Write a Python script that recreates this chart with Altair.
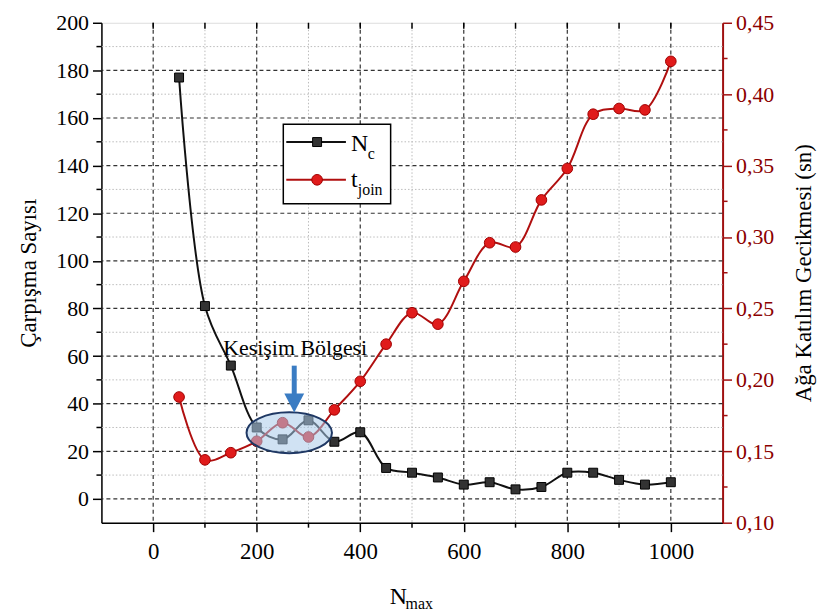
import altair as alt
import pandas as pd

# ---------------- data ----------------
n_max = [50, 100, 150, 200, 250, 300, 350, 400, 450, 500,
         550, 600, 650, 700, 750, 800, 850, 900, 950, 1000]
n_c = [177, 81, 56, 30, 25, 33, 24, 28, 13, 11,
       9, 6, 7, 4, 5, 11, 11, 8, 6, 7]
t_join = [0.188, 0.144, 0.149, 0.157, 0.170, 0.160, 0.179, 0.199, 0.225, 0.247,
          0.239, 0.269, 0.296, 0.293, 0.326, 0.348, 0.386, 0.390, 0.389, 0.423]

x_major = [0, 200, 400, 600, 800, 1000]
x_minor = [100, 300, 500, 700, 900]
x_top = [0, 100, 200, 300, 400, 500, 600, 700, 800, 900, 1000]
yl_major = [0, 20, 40, 60, 80, 100, 120, 140, 160, 180, 200]
yl_grid = [0, 20, 40, 60, 80, 100, 120, 140, 160, 180]
yl_minor = [10, 30, 50, 70, 90, 110, 130, 150, 170, 190]
yr_major = [0.10, 0.15, 0.20, 0.25, 0.30, 0.35, 0.40, 0.45]
yr_minor = [0.125, 0.175, 0.225, 0.275, 0.325, 0.375, 0.425]

FONT = "Liberation Serif"
RED_AX = "#a01010"
W, H = 625, 503

df = pd.DataFrame({"n": n_max, "nc": n_c, "t": t_join})
one = pd.DataFrame({"a": [0]})

xs = alt.Scale(domain=[-100, 1100], nice=False, zero=False)
yls = alt.Scale(domain=[-10, 200], nice=False, zero=False)
yrs = alt.Scale(domain=[0.10, 0.45], nice=False, zero=False)

ax_x = alt.Axis(values=x_major, format="d", title=None, grid=False, tickSize=9, tickWidth=1.5,
                tickColor="black", domainColor="black", domainWidth=1.5,
                labelFont=FONT, labelFontSize=23, labelColor="black", labelPadding=9,
                orient="bottom")
ax_yl = alt.Axis(values=yl_major, format="d", title="Çarpışma Sayısı", grid=False, tickSize=9,
                 tickWidth=1.5, tickColor="black", domainColor="black", domainWidth=1.5,
                 labelFont=FONT, labelFontSize=22, labelColor="black", labelPadding=4,
                 titleFont=FONT, titleFontSize=23, titleFontWeight="normal",
                 titleColor="black", titlePadding=15, orient="left")
ax_yr = alt.Axis(values=yr_major, title="Ağa Katılım Gecikmesi (sn)", grid=False,
                 tickSize=9, tickWidth=1.5, tickColor=RED_AX, domainColor=RED_AX,
                 domainWidth=2, labelFont=FONT, labelFontSize=22, labelColor="#8b0000",
                 labelPadding=4,
                 labelExpr="replace(format(datum.value, '.2f'), '.', ',')",
                 titleFont=FONT, titleFontSize=23, titleFontWeight="normal",
                 titleColor="black", titlePadding=19, titleAngle=270,
                 titleBaseline="top", orient="right")


def X(f):
    return alt.X(f"{f}:Q", scale=xs, axis=ax_x)


def YL(f):
    return alt.Y(f"{f}:Q", scale=yls, axis=ax_yl)


def YR(f):
    return alt.Y(f"{f}:Q", scale=yrs, axis=ax_yr)


# ---------------- grids & minor ticks (left group) ----------------
hg_major = alt.Chart(pd.DataFrame({"g": yl_grid})).mark_rule(
    color="#333333", strokeDash=[4, 3], strokeWidth=1.2).encode(y=YL("g"))
hg_minor = alt.Chart(pd.DataFrame({"g": yl_minor})).mark_rule(
    color="#bbbbbb", strokeDash=[1.5, 2], strokeWidth=1).encode(y=YL("g"))
vg_major = alt.Chart(pd.DataFrame({"g": x_major})).mark_rule(
    color="#333333", strokeDash=[4, 3], strokeWidth=1.2).encode(x=X("g"))
vg_minor = alt.Chart(pd.DataFrame({"g": x_minor})).mark_rule(
    color="#bbbbbb", strokeDash=[1.5, 2], strokeWidth=1).encode(x=X("g"))

top_ticks = alt.Chart(pd.DataFrame({"g": x_top})).mark_rule(
    color="black", strokeWidth=1.5).encode(x=X("g"), y=alt.value(0), y2=alt.value(6))
bot_minor = alt.Chart(pd.DataFrame({"g": x_minor})).mark_rule(
    color="black", strokeWidth=1.5).encode(x=X("g"), y=alt.value(H), y2=alt.value(H + 5))
left_minor = alt.Chart(pd.DataFrame({"g": yl_minor})).mark_rule(
    color="black", strokeWidth=1.5).encode(y=YL("g"), x=alt.value(-5), x2=alt.value(0))

nc_line = alt.Chart(df).mark_line(color="#111111", strokeWidth=2,
                                  interpolate="catmull-rom").encode(x=X("n"), y=YL("nc"))
nc_pts = alt.Chart(df).mark_point(shape="square", filled=True, size=81, color="#333333",
                                  stroke="#000000", strokeWidth=1, opacity=1
                                  ).encode(x=X("n"), y=YL("nc"))

left = alt.layer(hg_minor, vg_minor, hg_major, vg_major, top_ticks, bot_minor, left_minor,
                 nc_line, nc_pts)

# ---------------- right group ----------------
t_line = alt.Chart(df).mark_line(color="#b00f0f", strokeWidth=2,
                                 interpolate="catmull-rom").encode(x=X("n"), y=YR("t"))
t_pts = alt.Chart(df).mark_point(shape="circle", filled=True, size=115, color="#e01b1b",
                                 stroke="#a00000", strokeWidth=1, opacity=1
                                 ).encode(x=X("n"), y=YR("t"))
right_minor = alt.Chart(pd.DataFrame({"g": yr_minor})).mark_rule(
    color=RED_AX, strokeWidth=1.5).encode(y=YR("g"), x=alt.value(W), x2=alt.value(W + 5))

right = alt.layer(right_minor, t_line, t_pts)

# ---------------- annotations ----------------
ELLIPSE = ("M 1 0 C 1 0.263 0.552 0.477 0 0.477 C -0.552 0.477 -1 0.263 -1 0 "
           "C -1 -0.263 -0.552 -0.477 0 -0.477 C 0.552 -0.477 1 -0.263 1 0 Z")
TRI = "M -1 -0.9 L 1 -0.9 L 0 1 Z"

OY = 2  # plot top is 2px lower than the first draft

ellipse = alt.Chart(one).mark_point(shape=ELLIPSE, size=7396, filled=True, fill="#a9cbea",
                                    fillOpacity=0.55, stroke="#1f3864", strokeWidth=2,
                                    strokeOpacity=1).encode(x=alt.value(189), y=alt.value(414.5 - OY))
arrow_shaft = alt.Chart(one).mark_rule(color="#3a7cc3", strokeWidth=5).encode(
    x=alt.value(194), y=alt.value(347 - OY), y2=alt.value(377 - OY))
arrow_head = alt.Chart(one).mark_point(shape=TRI, size=400, filled=True, color="#3a7cc3",
                                       opacity=1).encode(x=alt.value(194), y=alt.value(384 - OY))
kes_text = alt.Chart(one).mark_text(text="Kesişim Bölgesi", font=FONT, fontSize=22,
                                    color="black", align="center", baseline="alphabetic"
                                    ).encode(x=alt.value(195), y=alt.value(336 - OY))

# legend
leg_box = alt.Chart(one).mark_rect(fill="white", stroke="black", strokeWidth=1.5).encode(
    x=alt.value(183), x2=alt.value(291), y=alt.value(104 - OY), y2=alt.value(184 - OY))
leg_l1 = alt.Chart(one).mark_rule(color="#111111", strokeWidth=2).encode(
    x=alt.value(186), x2=alt.value(246), y=alt.value(122 - OY))
leg_p1 = alt.Chart(one).mark_point(shape="square", filled=True, size=81, color="#333333",
                                   stroke="#000000", strokeWidth=1, opacity=1).encode(
    x=alt.value(217), y=alt.value(122 - OY))
leg_l2 = alt.Chart(one).mark_rule(color="#b00f0f", strokeWidth=2).encode(
    x=alt.value(186), x2=alt.value(246), y=alt.value(160 - OY))
leg_p2 = alt.Chart(one).mark_point(shape="circle", filled=True, size=115, color="#e01b1b",
                                   stroke="#a00000", strokeWidth=1, opacity=1).encode(
    x=alt.value(217), y=alt.value(160 - OY))
leg_n = alt.Chart(one).mark_text(text="N", font=FONT, fontSize=24, color="black",
                                 align="left", baseline="alphabetic").encode(
    x=alt.value(251), y=alt.value(131 - OY))
leg_c = alt.Chart(one).mark_text(text="c", font=FONT, fontSize=16, color="black",
                                 align="left", baseline="alphabetic").encode(
    x=alt.value(268), y=alt.value(139 - OY))
leg_t = alt.Chart(one).mark_text(text="t", font=FONT, fontSize=24, color="black",
                                 align="left", baseline="alphabetic").encode(
    x=alt.value(251), y=alt.value(167 - OY))
leg_join = alt.Chart(one).mark_text(text="join", font=FONT, fontSize=16, color="black",
                                    align="left", baseline="alphabetic").encode(
    x=alt.value(258), y=alt.value(175 - OY))

# x title N_max
xt_n = alt.Chart(one).mark_text(text="N", font=FONT, fontSize=24, color="black",
                                align="left", baseline="alphabetic").encode(
    x=alt.value(290), y=alt.value(585))
xt_max = alt.Chart(one).mark_text(text="max", font=FONT, fontSize=16, color="black",
                                  align="left", baseline="alphabetic").encode(
    x=alt.value(306), y=alt.value(590))

annot = alt.layer(ellipse, arrow_shaft, arrow_head, kes_text,
                  leg_box, leg_l1, leg_p1, leg_l2, leg_p2, leg_n, leg_c, leg_t, leg_join,
                  xt_n, xt_max)

chart = alt.layer(left, right, annot).resolve_scale(y="independent").properties(
    width=W, height=H,
    autosize=alt.AutoSizeParams(type="none"),
    padding={"left": 94, "top": 13, "right": 96, "bottom": 91},
).configure_view(stroke="black", strokeWidth=1.5).configure(background="white")

chart.save("out.html", embed_options={"renderer": "svg", "actions": False})
